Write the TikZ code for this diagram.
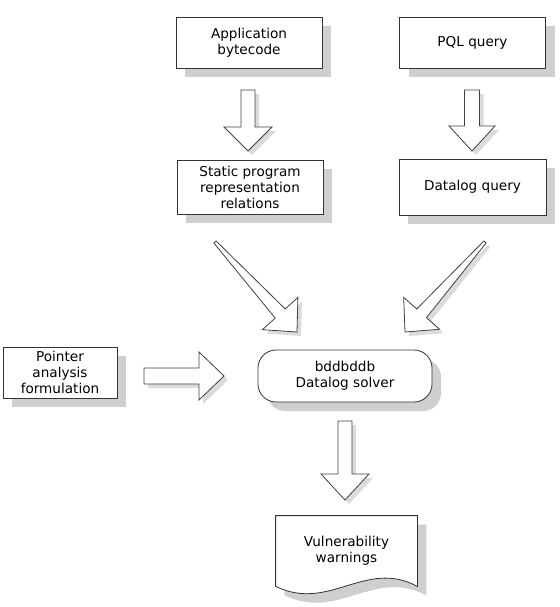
\documentclass[tikz,border=0pt]{standalone}
\usepackage{fontspec}
\setsansfont{DejaVu Sans}
\usetikzlibrary{calc,shadows,backgrounds}
\tikzset{
    basic/.style    = {draw=black!80, line width=0.8pt, fill=white, font=\sffamily\fontsize{13.6}{16}\selectfont, align=center, inner sep=0pt},
    box shadow/.style = {drop shadow={shadow xshift=9pt, shadow yshift=-9pt, fill=black!19, opacity=1}},
    srcbox/.style   = {basic, rectangle, box shadow},
    solverbox/.style = {basic, rectangle, rounded corners=18pt, box shadow},
    docbody/.style  = {draw=black!80, line width=0.8pt, fill=white, box shadow},
    arrowbody/.style = {draw=black!75, line width=0.8pt, fill=white, line join=miter,
        drop shadow={shadow xshift=4pt, shadow yshift=-4pt, fill=black!14, opacity=1}}
}
% block arrow: tail, tip, tail half width, shaft half width, head half width, head length
\newcommand{\blockarrow}[6]{%
    \draw[arrowbody] ($(#1)!#3!90:(#2)$) -- ($(#2)!#6!(#1)!#4!90:(#2)$) -- ($(#2)!#6!(#1)!#5!90:(#2)$) -- (#2)
        -- ($(#2)!#6!(#1)!#5!-90:(#2)$) -- ($(#2)!#6!(#1)!#4!-90:(#2)$) -- ($(#1)!#3!-90:(#2)$) -- cycle;}

\begin{document}
\begin{tikzpicture}[x=1pt, y=-1pt]
    \useasboundingbox (0,0) rectangle (559,607);

    % inputs
    \node[srcbox, minimum width=146pt, minimum height=51pt] (app) at (249,43) {Application\\bytecode};
    \node[srcbox, minimum width=146pt, minimum height=51pt] (pql) at (472.5,43) {PQL query};
    \node[srcbox, minimum width=146pt, minimum height=54pt] (spr) at (250,187) {Static program\\representation\\relations};
    \node[srcbox, minimum width=147pt, minimum height=56pt] (dq) at (472.5,187) {Datalog query};
    \node[srcbox, minimum width=114pt, minimum height=51pt] (pointer) at (60,372.5) {Pointer\\analysis\\formulation};

    % solver
    \node[solverbox, minimum width=174pt, minimum height=52pt] (solver) at (345,376) {bddbddb\\Datalog solver};

    % output document
    \node[basic, draw=none, fill=none, minimum width=141pt, minimum height=70pt] (warn) at (346.5,551) {Vulnerability\\warnings};
    \begin{pgfonlayer}{background}
        \draw[docbody] (warn.north west) -- (warn.north east) -- (warn.south east)
            .. controls ($(warn.south east)+(-52,-28)$) and ($(warn.south west)+(54,26)$) .. (warn.south west) -- cycle;
    \end{pgfonlayer}

    % arrow ends
    \coordinate (appout) at (248,90);
    \coordinate (sprin) at (248,151);
    \coordinate (pqlout) at (472,90);
    \coordinate (dqin) at (472,151);
    \coordinate (sprout) at (215,242);
    \coordinate (solverinl) at (297,332);
    \coordinate (dqout) at (485,242);
    \coordinate (solverinr) at (405,332);
    \coordinate (pointerout) at (144,376);
    \coordinate (solverinw) at (224,376);
    \coordinate (solverout) at (345,421);
    \coordinate (warnin) at (345,500);

    \blockarrow{appout}{sprin}{7pt}{7pt}{24pt}{24pt}
    \blockarrow{pqlout}{dqin}{7.5pt}{7.5pt}{23pt}{25pt}
    \blockarrow{sprout}{solverinl}{1.5pt}{6.8pt}{24pt}{25pt}
    \blockarrow{dqout}{solverinr}{1.5pt}{6.5pt}{24pt}{25pt}
    \blockarrow{pointerout}{solverinw}{8pt}{8pt}{24pt}{25pt}
    \blockarrow{solverout}{warnin}{7pt}{7pt}{24pt}{26pt}
\end{tikzpicture}
\end{document}
